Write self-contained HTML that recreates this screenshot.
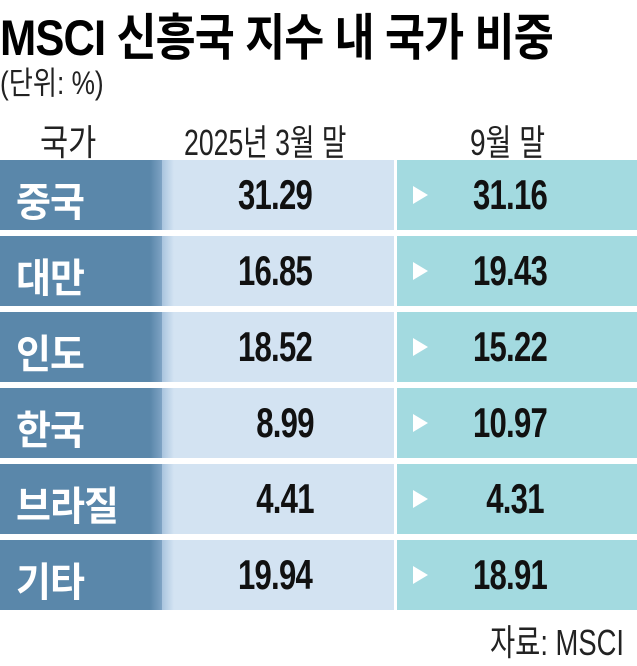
<!DOCTYPE html>
<html><head><meta charset="utf-8"><style>
body{margin:0;width:637px;height:658px;background:#fff;position:relative;overflow:hidden;font-family:"Liberation Sans","Noto Sans CJK KR",sans-serif;}
.a{position:absolute;white-space:nowrap;transform-origin:left top;}
.row{position:absolute;left:0;width:637px;height:70px;}
.c1{position:absolute;left:0;top:0;width:162px;height:70px;background:linear-gradient(to right,#5a87aa 0,#5a87aa 150px,#7fa3c4 162px);}
.c2{position:absolute;left:162px;top:0;width:232px;height:70px;background:linear-gradient(to right,#a9c4de 0,#d3e3f2 12px,#d3e3f2 100%);}
.c3{position:absolute;left:397px;top:0;width:240px;height:70px;background:#a3dae0;}
.n{position:absolute;left:16px;top:10px;color:#fff;font-weight:bold;font-size:40px;transform:scaleX(0.95);transform-origin:left top;letter-spacing:-1px;}
.v{position:absolute;top:11px;font-size:42px;font-weight:bold;color:#111;transform:scaleX(0.74);transform-origin:center top;letter-spacing:-1px;}
.tri{position:absolute;left:413px;top:26px;width:0;height:0;border-left:15px solid #fff;border-top:9px solid transparent;border-bottom:9px solid transparent;}
</style></head><body>
<div class="a" style="left:0;top:-2px;font-size:50px;font-weight:bold;transform:scaleX(0.87);letter-spacing:-1px;">MSCI 신흥국 지수 내 국가 비중</div>
<div class="a" style="left:0;top:58px;font-size:32px;color:#222;transform:scaleX(0.82);">(단위: %)</div>
<div class="a" style="left:40px;top:114px;font-size:36px;color:#222;transform:scaleX(0.85);">국가</div>
<div class="a" style="left:184px;top:114px;font-size:36px;color:#222;transform:scaleX(0.74);">2025년 3월 말</div>
<div class="a" style="left:470px;top:114px;font-size:36px;color:#222;transform:scaleX(0.78);">9월 말</div>

<div class="row" style="top:160px"><div class="c1"></div><div class="c2"></div><div class="c3"></div><div class="n">중국</div><div class="v" style="left:200px;width:150px;text-align:center">31.29</div><div class="tri"></div><div class="v" style="left:435px;width:150px;text-align:center">31.16</div></div>
<div class="row" style="top:236px"><div class="c1"></div><div class="c2"></div><div class="c3"></div><div class="n">대만</div><div class="v" style="left:200px;width:150px;text-align:center">16.85</div><div class="tri"></div><div class="v" style="left:435px;width:150px;text-align:center">19.43</div></div>
<div class="row" style="top:312px"><div class="c1"></div><div class="c2"></div><div class="c3"></div><div class="n">인도</div><div class="v" style="left:200px;width:150px;text-align:center">18.52</div><div class="tri"></div><div class="v" style="left:435px;width:150px;text-align:center">15.22</div></div>
<div class="row" style="top:388px"><div class="c1"></div><div class="c2"></div><div class="c3"></div><div class="n">한국</div><div class="v" style="left:210px;width:150px;text-align:center">8.99</div><div class="tri"></div><div class="v" style="left:435px;width:150px;text-align:center">10.97</div></div>
<div class="row" style="top:464px"><div class="c1"></div><div class="c2"></div><div class="c3"></div><div class="n">브라질</div><div class="v" style="left:210px;width:150px;text-align:center">4.41</div><div class="tri"></div><div class="v" style="left:440px;width:150px;text-align:center">4.31</div></div>
<div class="row" style="top:540px"><div class="c1"></div><div class="c2"></div><div class="c3"></div><div class="n">기타</div><div class="v" style="left:200px;width:150px;text-align:center">19.94</div><div class="tri"></div><div class="v" style="left:435px;width:150px;text-align:center">18.91</div></div>

<div class="a" style="left:490px;top:614px;font-size:36px;color:#222;transform:scaleX(0.76);">자료: MSCI</div>
</body></html>
